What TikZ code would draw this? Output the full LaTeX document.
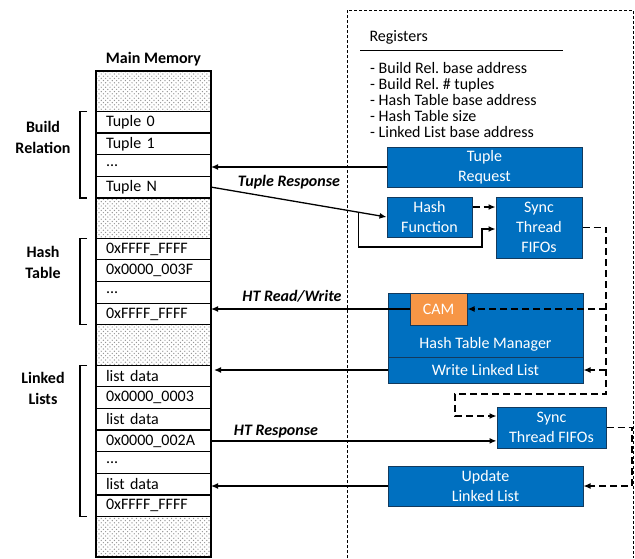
\documentclass[tikz,border=0pt]{standalone}
\usepackage{fontspec}
\setmainfont{Carlito}
\usepackage{tikz}
\usetikzlibrary{positioning, arrows.meta, patterns, calc}

\definecolor{unitblue}{HTML}{0070C0}
\definecolor{unitedge}{HTML}{123A5E}
\definecolor{camorange}{HTML}{F79646}

% coarser dot screen for the unused memory
\pgfdeclarepatternformonly{memdots}{\pgfqpoint{-1pt}{-1pt}}{\pgfqpoint{4.4pt}{4.4pt}}{\pgfqpoint{4.4pt}{4.4pt}}{
    \pgfpathcircle{\pgfqpoint{0pt}{0pt}}{0.7pt}
    \pgfpathcircle{\pgfqpoint{2.2pt}{2.2pt}}{0.7pt}
    \pgfusepath{fill}
}

\begin{document}
\begin{tikzpicture}[
        x=1pt, y=-1pt,
        font=\fontsize{16}{20}\selectfont,
        cell/.style={rectangle, draw=black, line width=1.2pt, fill=white, outer sep=0pt,
            minimum width=115pt, minimum height=21.65pt, text width=95pt, inner xsep=10pt,
            inner ysep=0pt, align=left},
        spare/.style={rectangle, draw=black, line width=1.2pt, outer sep=0pt,
            minimum width=115pt, minimum height=40.3pt, pattern=memdots, pattern color=gray!85},
        unit/.style={rectangle, draw=unitedge, line width=1pt, fill=unitblue, text=white,
            align=center, inner sep=0pt},
        cam/.style={unit, fill=camorange},
        group/.style={font=\fontsize{16}{21}\selectfont\bfseries, align=center},
        lbl/.style={font=\fontsize{16}{20}\selectfont\bfseries\itshape},
        brace/.style={line width=1.2pt},
        arrow/.style={-{Latex[length=7pt,width=6pt]}, line width=1.3pt},
        dasharrow/.style={arrow, dash pattern=on 7pt off 4pt}
        ]
        \useasboundingbox (0,0) rectangle (635,558);

        % accelerator frame
        \draw[line width=0.8pt, dash pattern=on 3pt off 2pt] (347,558) -- (347,10) -- (633,10) -- (633,558);

        % main memory column
        \node[spare, anchor=north west] (gapA) at (96,71) {};
        \node[cell, below=0pt of gapA] (tup0) {Tuple 0};
        \node[cell, below=0pt of tup0] (tup1) {Tuple 1};
        \node[cell, below=0pt of tup1] (tupdots) {...};
        \node[cell, below=0pt of tupdots] (tupN) {Tuple N};
        \node[spare, below=0pt of tupN] (gapB) {};
        \node[cell, below=0pt of gapB] (ht0) {0xFFFF\_FFFF};
        \node[cell, below=0pt of ht0] (ht1) {0x0000\_003F};
        \node[cell, below=0pt of ht1] (htdots) {...};
        \node[cell, below=0pt of htdots] (htN) {0xFFFF\_FFFF};
        \node[spare, below=0pt of htN] (gapC) {};
        \node[cell, below=0pt of gapC] (ll0) {list data};
        \node[cell, below=0pt of ll0] (ll1) {0x0000\_0003};
        \node[cell, below=0pt of ll1] (ll2) {list data};
        \node[cell, below=0pt of ll2] (ll3) {0x0000\_002A};
        \node[cell, below=0pt of ll3] (lldots) {...};
        \node[cell, below=0pt of lldots] (ll5) {list data};
        \node[cell, below=0pt of ll5] (ll6) {0xFFFF\_FFFF};
        \node[spare, below=0pt of ll6] (gapD) {};

        \node[font=\fontsize{16}{20}\selectfont\bfseries, above=1pt of gapA] (mem) {Main Memory};

        % regions
        \draw[brace] ([xshift=-9pt]tup0.north west) -- ++(-7,0) |- ([xshift=-9pt]tupN.south west);
        \draw[brace] ([xshift=-9pt]ht0.north west) -- ++(-7,0) |- ([xshift=-9pt]htN.south west);
        \draw[brace] ([xshift=-9pt]ll0.north west) -- ++(-7,0) |- ([xshift=-9pt]ll6.south west);
        \node[group] (brel) at (43,137) {Build\\Relation};
        \node[group] (htab) at (43,262) {Hash\\Table};
        \node[group] (llst) at (43,388) {Linked\\Lists};

        % registers
        \node[anchor=west] (regs) at (366,37) {Registers};
        \draw[line width=1pt] (360,50) -- (563,50);
        \node[anchor=north west, inner sep=0pt, align=left, font=\fontsize{16}{16}\selectfont\frenchspacing]
            (reglist) at (370,62) {- Build Rel. base address\\- Build Rel. \# tuples\\- Hash Table base address\\- Hash Table size\\- Linked List base address};

        % hardware units
        \node[unit, minimum width=195pt, minimum height=40pt] (treq) at (484.5,167) {Tuple\\Request};
        \node[unit, minimum width=85pt, minimum height=40pt] (hashf) at (429.5,217) {Hash\\Function};
        \node[unit, minimum width=86pt, minimum height=61pt] (sync1) at (539,227.5) {Sync\\Thread\\FIFOs};
        \node[unit, minimum width=195pt, minimum height=64pt] (htm) at (485.5,325) {};
        \node[text=white] (htmtxt) at (485.5,344) {Hash Table Manager};
        \node[cam, minimum width=57pt, minimum height=32pt] (cam) at (438.5,309) {CAM};
        \node[unit, minimum width=195pt, minimum height=26pt] (wll) at (485.5,370) {Write Linked List};
        \node[unit, minimum width=109pt, minimum height=41pt] (sync2) at (551.5,427.5) {Sync\\Thread FIFOs};
        \node[unit, minimum width=195pt, minimum height=40pt] (ull) at (485.5,486) {Update\\Linked List};

        \coordinate (split) at ($(tupN.east)!0.84!(hashf.west)$);
        \coordinate (bend) at (482,247);
        \coordinate (railend) at (606,394);
        \coordinate (loop) at (455,416);
        \coordinate (rail2) at (632,486);

        % memory traffic
        \draw[arrow] (treq.west) -- (treq.west -| tupdots.east);
        \draw[arrow] (tupN.east) -- (hashf.west);
        \node[lbl] (trsp) at (289,182) {Tuple Response};
        \draw[arrow] (split) |- (bend) |- ([yshift=-1.5pt]sync1.west);
        \draw[arrow] (cam.west) -- (cam.west -| htN.east);
        \node[lbl] (htrw) at (292,296) {HT Read/Write};
        \draw[arrow, shorten >=3pt] (wll.west) -- (wll.west -| ll0.east);
        \draw[arrow] (ll3.east) -- (ll3.east -| sync2.west);
        \node[lbl] (htrsp) at (276,432) {HT Response};
        \draw[arrow] (ull.west) -- (ull.west -| ll5.east);

        % thread sync paths
        \draw[dasharrow] ([yshift=10pt]hashf.east) -- ([yshift=10pt]hashf.east -| sync1.west);
        \draw[dasharrow] (sync1.east) -| (railend) -| (loop) -- (loop -| sync2.west);
        \draw[dasharrow] (cam.east -| railend) -- (cam.east);
        \draw[dasharrow] (wll.east -| railend) -- (wll.east);
        \draw[dasharrow] (sync2.east) -| (rail2) -- (ull.east);
    \end{tikzpicture}
\end{document}
